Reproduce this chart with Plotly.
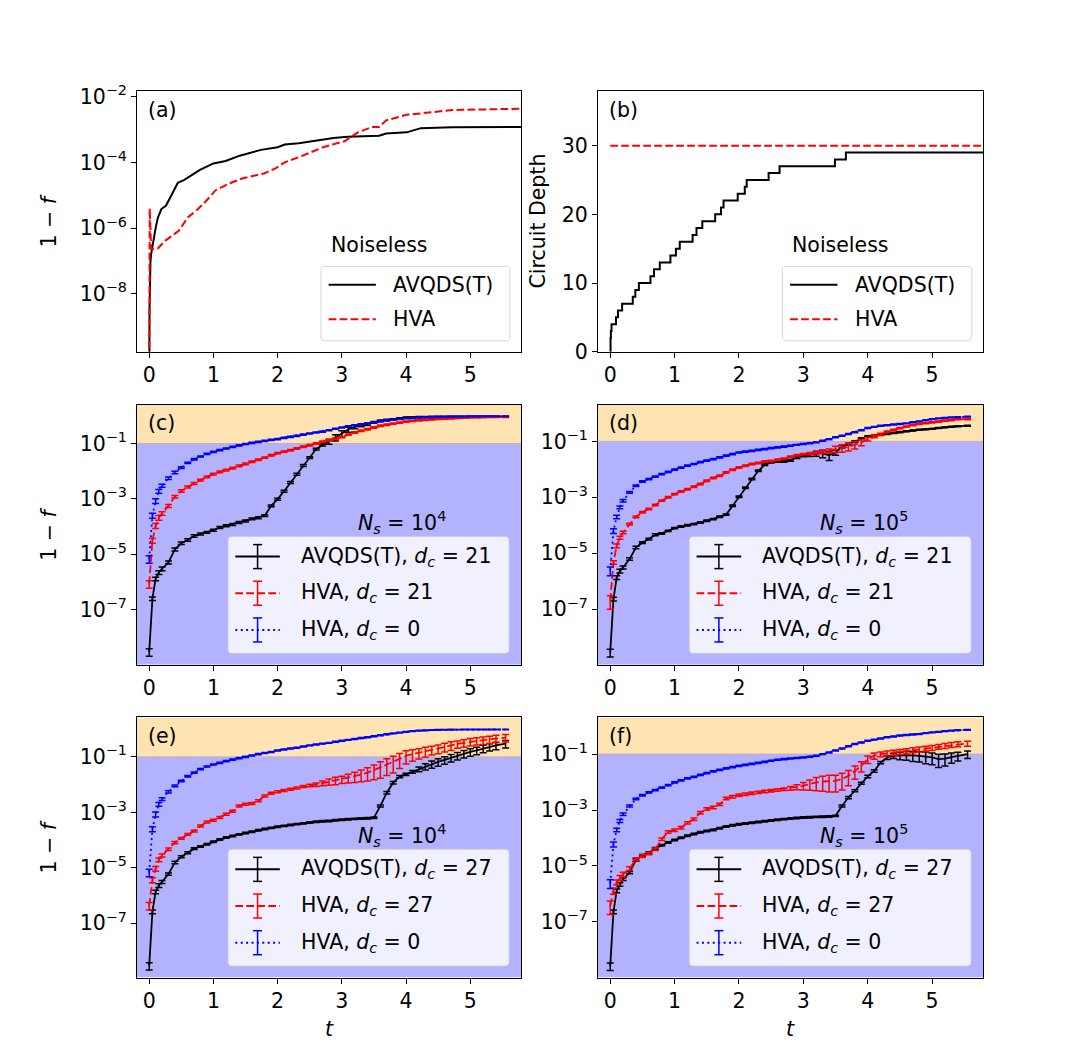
import plotly.graph_objects as go

# ---------------- data ----------------
# (a) noiseless infidelity 1-f
ta_avqds = [0, 0.005, 0.02, 0.03, 0.1, 0.135, 0.19, 0.26, 0.34, 0.445, 0.54, 0.68, 0.79, 1.0,
            1.19, 1.41, 1.74, 2.0, 2.11, 2.33, 2.55, 2.87, 3.09, 3.58, 3.69, 4.01, 4.23, 4.72, 5.8]
fa_avqds = [1e-12, 3e-9, 1e-7, 1.6e-7, 1.0e-6, 2.1e-6, 3.8e-6, 4.8e-6, 9.5e-6, 2.4e-5, 2.9e-5, 4.4e-5,
            5.9e-5, 9.3e-5, 1.1e-4, 1.6e-4, 2.4e-4, 2.9e-4, 3.5e-4, 3.8e-4, 4.4e-4, 5.5e-4, 6.0e-4,
            6.5e-4, 7.6e-4, 8.2e-4, 1.1e-3, 1.17e-3, 1.2e-3]
ta_hva = [0, 0.008, 0.03, 0.135, 0.24, 0.38, 0.46, 0.6, 0.76, 0.89, 1.03, 1.25, 1.46, 1.79, 1.98,
          2.11, 2.39, 2.71, 3.04, 3.25, 3.47, 3.58, 3.69, 4.01, 4.34, 4.72, 5.8]
fa_hva = [1e-12, 4e-6, 2.3e-7, 2.4e-7, 4e-7, 6.3e-7, 8.3e-7, 2.1e-6, 3.8e-6, 6.8e-6, 1.4e-5, 2.3e-5,
          3.3e-5, 4.6e-5, 6.8e-5, 1.0e-4, 1.6e-4, 2.9e-4, 4.4e-4, 8.2e-4, 1.2e-3, 1.2e-3, 1.9e-3,
          2.8e-3, 3.3e-3, 3.9e-3, 4.3e-3]

# (b) circuit depth
tb_avqds = [0, 0.005, 0.01, 0.02, 0.09, 0.12, 0.185, 0.35, 0.39, 0.445, 0.625, 0.68, 0.77, 0.935,
            1.02, 1.08, 1.28, 1.34, 1.43, 1.63, 1.72, 1.76, 1.98, 2.09, 2.12, 2.46, 2.63, 3.49, 3.66, 5.8]
db_avqds = [0, 2, 3, 4, 5, 6, 7, 8, 9, 10, 11, 12, 13, 14, 15, 16, 17, 18, 19, 20, 21, 22, 23, 24,
            25, 26, 27, 28, 29, 29]
tb_hva = [0, 5.8]
db_hva = [30, 30]

# (c)-(f) noisy simulations
T = [0, 0.05, 0.1, 0.15, 0.2, 0.3, 0.4, 0.5, 0.6, 0.7,
     0.8, 0.9, 1.0, 1.1, 1.2, 1.3, 1.4, 1.5, 1.6, 1.7,
     1.8, 1.9, 2.0, 2.1, 2.2, 2.3, 2.4, 2.5, 2.6, 2.7,
     2.8, 2.9, 3.0, 3.1, 3.2, 3.3, 3.4, 3.5, 3.6, 3.7,
     3.8, 3.9, 4.0, 4.1, 4.2, 4.3, 4.4, 4.5, 4.6, 4.7,
     4.8, 4.9, 5.0, 5.1, 5.2, 5.3, 5.4, 5.55]

c_avqds = [3e-9, 2.5e-7, 1.3e-6, 2.2e-6, 3e-6, 5.1e-6, 1.5e-5, 2.5e-5, 3.3e-5, 4.6e-5,
           5.4e-5, 6.2e-5, 7.4e-5, 9.3e-5, 1.07e-4, 1.2e-4, 1.4e-4, 1.6e-4, 1.9e-4, 2.1e-4,
           2.5e-4, 5.6e-4, 9.8e-4, 1.9e-3, 3.9e-3, 7.8e-3, 1.6e-2, 3.1e-2, 6.3e-2, 8.9e-2,
           0.118, 0.165, 0.23, 0.32, 0.4, 0.45, 0.5, 0.58, 0.66, 0.71,
           0.76, 0.82, 0.87, 0.89, 0.9, 0.91, 0.92, 0.92, 0.93, 0.93,
           0.93, 0.94, 0.94, 0.94, 0.94, 0.94, 0.94, 0.94]
c_hva21 = [8.5e-7, 3.1e-5, 1.07e-4, 2.1e-4, 3e-4, 5.6e-4, 1.2e-3, 1.95e-3, 2.7e-3, 3.6e-3,
           4.8e-3, 6.3e-3, 7.8e-3, 9.5e-3, 1.1e-2, 1.3e-2, 1.55e-2, 1.85e-2, 2.2e-2, 2.6e-2,
           3.1e-2, 3.8e-2, 4.5e-2, 5.1e-2, 5.7e-2, 6.6e-2, 7.6e-2, 8.7e-2, 0.1, 0.115,
           0.13, 0.15, 0.17, 0.21, 0.25, 0.29, 0.33, 0.38, 0.44, 0.48,
           0.52, 0.57, 0.62, 0.66, 0.69, 0.72, 0.75, 0.77, 0.79, 0.81,
           0.83, 0.85, 0.87, 0.88, 0.89, 0.9, 0.9, 0.91]
c_hva0 = [6.8e-6, 2.5e-4, 8.5e-4, 1.9e-3, 3e-3, 5.6e-3, 9e-3, 1.35e-2, 2e-2, 2.7e-2,
          3.4e-2, 4.2e-2, 5e-2, 5.8e-2, 6.6e-2, 7.6e-2, 8.6e-2, 9.6e-2, 0.105, 0.115,
          0.125, 0.135, 0.145, 0.16, 0.175, 0.19, 0.21, 0.23, 0.25, 0.27,
          0.3, 0.34, 0.38, 0.42, 0.46, 0.5, 0.54, 0.58, 0.63, 0.68,
          0.72, 0.76, 0.8, 0.83, 0.86, 0.88, 0.9, 0.91, 0.92, 0.93,
          0.94, 0.95, 0.96, 0.96, 0.97, 0.97, 0.97, 0.97]

d_avqds = [2.8e-9, 2.3e-7, 1.35e-6, 2.3e-6, 3.1e-6, 6.2e-6, 1.6e-5, 2.4e-5, 3.2e-5, 4.6e-5,
           5.1e-5, 6.3e-5, 7.9e-5, 9e-5, 1.0e-4, 1.1e-4, 1.26e-4, 1.45e-4, 1.66e-4, 2e-4,
           2.4e-4, 5e-4, 1.05e-3, 2.2e-3, 4.5e-3, 8.9e-3, 1.45e-2, 1.8e-2, 1.9e-2, 1.9e-2,
           2.1e-2, 2.7e-2, 3.1e-2, 3.3e-2, 3.7e-2, 3.7e-2, 3.2e-2, 4.0e-2, 6.4e-2, 8e-2,
           0.1, 0.128, 0.15, 0.16, 0.17, 0.185, 0.2, 0.215, 0.23, 0.245,
           0.26, 0.27, 0.28, 0.3, 0.32, 0.335, 0.35, 0.36]
d_hva21 = [2e-7, 4.7e-6, 1.85e-5, 3.6e-5, 5.5e-5, 1.1e-4, 2e-4, 2.9e-4, 3.8e-4, 5.3e-4,
           7.6e-4, 1e-3, 1.3e-3, 1.6e-3, 1.95e-3, 2.4e-3, 3e-3, 3.9e-3, 4.9e-3, 5.9e-3,
           7.8e-3, 9.7e-3, 1.17e-2, 1.35e-2, 1.55e-2, 1.7e-2, 1.9e-2, 2.0e-2, 2.2e-2, 2.4e-2,
           2.8e-2, 3.2e-2, 3.5e-2, 3.7e-2, 3.9e-2, 4.3e-2, 4.6e-2, 5.3e-2, 5.8e-2, 6.4e-2,
           7.6e-2, 9.2e-2, 0.12, 0.15, 0.18, 0.22, 0.26, 0.3, 0.34, 0.38,
           0.42, 0.45, 0.48, 0.51, 0.55, 0.58, 0.62, 0.63]
d_hva0 = [2.4e-6, 6.3e-5, 2e-4, 4.4e-4, 7.6e-4, 1.5e-3, 2.6e-3, 3.7e-3, 4.5e-3, 5.5e-3,
          6.8e-3, 8.1e-3, 9.7e-3, 1.15e-2, 1.35e-2, 1.55e-2, 1.8e-2, 2.05e-2, 2.3e-2, 2.7e-2,
          3.1e-2, 3.5e-2, 4.0e-2, 4.3e-2, 4.6e-2, 5.0e-2, 5.3e-2, 5.7e-2, 6.1e-2, 6.5e-2,
          7e-2, 7.5e-2, 8e-2, 8.6e-2, 9.2e-2, 0.105, 0.12, 0.14, 0.16, 0.185,
          0.21, 0.25, 0.3, 0.33, 0.36, 0.38, 0.4, 0.42, 0.44, 0.48,
          0.52, 0.57, 0.62, 0.66, 0.69, 0.72, 0.74, 0.76]

e_avqds = [2.9e-9, 2.6e-7, 1.35e-6, 2.3e-6, 3.1e-6, 5.9e-6, 1.55e-5, 2.5e-5, 3.5e-5, 4.9e-5,
           5.9e-5, 7.1e-5, 8.7e-5, 1.05e-4, 1.23e-4, 1.4e-4, 1.6e-4, 1.8e-4, 2.0e-4, 2.25e-4,
           2.5e-4, 2.75e-4, 3.0e-4, 3.25e-4, 3.5e-4, 3.75e-4, 4e-4, 4.3e-4, 4.6e-4, 4.75e-4,
           4.9e-4, 5.15e-4, 5.4e-4, 5.6e-4, 5.8e-4, 6e-4, 6.1e-4, 6.4e-4, 1.7e-3, 5.1e-3,
           1.17e-2, 1.95e-2, 2.35e-2, 2.9e-2, 3.6e-2, 4.5e-2, 5.5e-2, 6.6e-2, 7.8e-2, 9.3e-2,
           0.11, 0.13, 0.15, 0.17, 0.2, 0.23, 0.26, 0.3]
e_hva27 = [4.3e-7, 3.6e-6, 9.3e-6, 1.95e-5, 2.8e-5, 4.7e-5, 8.1e-5, 1.15e-4, 1.6e-4, 2.1e-4,
           3.2e-4, 4.5e-4, 5.2e-4, 6.5e-4, 8.5e-4, 1.1e-3, 1.7e-3, 1.95e-3, 2.1e-3, 2.6e-3,
           3.9e-3, 4.9e-3, 5.5e-3, 6.1e-3, 6.8e-3, 7.6e-3, 8.5e-3, 9.3e-3, 1.0e-2, 1.13e-2,
           1.26e-2, 1.4e-2, 1.55e-2, 1.75e-2, 2.0e-2, 2.3e-2, 2.7e-2, 3.3e-2, 4.2e-2, 5.3e-2,
           6.6e-2, 8.5e-2, 0.11, 0.125, 0.14, 0.16, 0.18, 0.2, 0.23, 0.26,
           0.29, 0.32, 0.35, 0.38, 0.4, 0.43, 0.46, 0.49]
e_hva0 = [6.8e-6, 2.5e-4, 8.5e-4, 1.95e-3, 3e-3, 5.5e-3, 9e-3, 1.35e-2, 2e-2, 2.7e-2,
          3.6e-2, 4.5e-2, 5.3e-2, 6.1e-2, 7e-2, 8e-2, 9e-2, 0.1, 0.112, 0.125,
          0.137, 0.15, 0.17, 0.185, 0.2, 0.215, 0.235, 0.26, 0.28, 0.3,
          0.32, 0.35, 0.38, 0.41, 0.44, 0.48, 0.51, 0.55, 0.6, 0.65,
          0.7, 0.75, 0.8, 0.85, 0.89, 0.91, 0.93, 0.94, 0.95, 0.96,
          0.96, 0.97, 0.97, 0.97, 0.97, 0.97, 0.97, 0.97]

f_avqds = [2.6e-9, 2.3e-7, 1.3e-6, 2.2e-6, 3.4e-6, 5.8e-6, 1.65e-5, 2.4e-5, 3e-5, 4.2e-5,
           5.5e-5, 6.9e-5, 8.5e-5, 1.02e-4, 1.2e-4, 1.4e-4, 1.6e-4, 1.78e-4, 1.95e-4, 2.25e-4,
           2.6e-4, 2.85e-4, 3.1e-4, 3.3e-4, 3.5e-4, 3.75e-4, 4e-4, 4.25e-4, 4.5e-4, 4.75e-4,
           5e-4, 5.2e-4, 5.4e-4, 5.55e-4, 5.7e-4, 5.8e-4, 5.9e-4, 6.2e-4, 1.4e-3, 2.8e-3,
           4.9e-3, 9.1e-3, 1.6e-2, 2.5e-2, 5e-2, 7.6e-2, 8.7e-2, 9e-2, 9.2e-2, 9e-2,
           8.7e-2, 8.2e-2, 7.6e-2, 6.6e-2, 6.9e-2, 7.8e-2, 8.7e-2, 0.1]
f_hva27 = [3.7e-7, 1.3e-6, 2.6e-6, 3.8e-6, 5e-6, 8.1e-6, 1.75e-5, 2.3e-5, 2.8e-5, 4e-5,
           9.1e-5, 1.66e-4, 1.9e-4, 2.35e-4, 3.5e-4, 4.7e-4, 8.1e-4, 1.1e-3, 1.23e-3, 1.6e-3,
           2.6e-3, 3e-3, 3.4e-3, 3.7e-3, 4e-3, 4.3e-3, 4.6e-3, 4.9e-3, 5.2e-3, 5.6e-3,
           6e-3, 6.7e-3, 7.4e-3, 8.5e-3, 9.7e-3, 1.05e-2, 1.1e-2, 1.1e-2, 1.3e-2, 1.66e-2,
           2.5e-2, 3.8e-2, 6.6e-2, 8.7e-2, 0.1, 0.107, 0.115, 0.122, 0.13, 0.14,
           0.15, 0.16, 0.17, 0.185, 0.2, 0.215, 0.23, 0.24]
f_hva0 = [2.4e-6, 6e-5, 1.95e-4, 4.1e-4, 7.1e-4, 1.4e-3, 2.5e-3, 3.4e-3, 4.3e-3, 5.2e-3,
          6.4e-3, 7.8e-3, 9.7e-3, 1.15e-2, 1.35e-2, 1.55e-2, 1.8e-2, 2.1e-2, 2.4e-2, 2.75e-2,
          3.1e-2, 3.45e-2, 3.8e-2, 4.15e-2, 4.5e-2, 4.9e-2, 5.3e-2, 5.8e-2, 6.3e-2, 6.6e-2,
          7e-2, 7.3e-2, 7.6e-2, 8.1e-2, 8.7e-2, 0.1, 0.115, 0.135, 0.16, 0.19,
          0.23, 0.26, 0.3, 0.33, 0.36, 0.4, 0.43, 0.46, 0.48, 0.5,
          0.52, 0.56, 0.6, 0.63, 0.66, 0.69, 0.72, 0.74]

# relative sizes of the error bars (error / value)
c_avqds_rel = [0.3, 0.15, 0.15, 0.15, 0.15, 0.12, 0.12, 0.1, 0.1, 0.1] + [0.08] * 20 + \
              [0.2, 0.25, 0.25, 0.2, 0.15, 0.1, 0.1, 0.08, 0.06, 0.05] + [0.04] * 10 + [0.03] * 8
c_hva21_rel = [0.3, 0.2, 0.2, 0.2, 0.15, 0.12, 0.1, 0.1, 0.08, 0.08] + [0.07] * 10 + [0.06] * 20 + \
              [0.05] * 10 + [0.04] * 8
c_hva0_rel = [0.3, 0.2, 0.2, 0.15, 0.12, 0.1, 0.1, 0.08, 0.06, 0.06] + [0.05] * 20 + [0.04] * 10 + \
             [0.03] * 10 + [0.02] * 8
d_avqds_rel = [0.3, 0.15, 0.15, 0.15, 0.12, 0.1, 0.1, 0.08, 0.08, 0.08] + [0.06] * 20 + \
              [0.08, 0.1, 0.1, 0.12, 0.2, 0.3, 0.35, 0.2, 0.1, 0.08] + [0.05] * 10 + [0.04] * 8
d_hva21_rel = [0.5, 0.15, 0.15, 0.12, 0.1, 0.08, 0.08, 0.06, 0.06, 0.06] + [0.06] * 20 + \
              [0.06, 0.06, 0.06, 0.08, 0.1, 0.12, 0.15, 0.25, 0.3, 0.3] + \
              [0.3, 0.25, 0.15, 0.1, 0.08, 0.06, 0.05, 0.05, 0.05, 0.05] + [0.05] * 8
d_hva0_rel = [0.35, 0.2, 0.15, 0.12, 0.1, 0.08, 0.06, 0.06, 0.05, 0.05] + [0.05] * 20 + \
             [0.04] * 20 + [0.03] * 8
e_avqds_rel = [0.3, 0.15, 0.15, 0.15, 0.12, 0.1, 0.1, 0.08, 0.08, 0.08] + [0.06] * 28 + [0.08, 0.1] + \
              [0.1, 0.1, 0.1, 0.12, 0.2, 0.25, 0.3, 0.3, 0.3, 0.3] + [0.3] * 8
e_hva27_rel = [0.3, 0.2, 0.2, 0.15, 0.12, 0.1, 0.1, 0.08, 0.08, 0.08] + [0.08] * 17 + [0.1, 0.15, 0.2] + \
              [0.25, 0.3, 0.3, 0.35, 0.4, 0.45, 0.5, 0.55, 0.6, 0.6] + \
              [0.6, 0.55, 0.5, 0.45, 0.4, 0.4, 0.35, 0.35, 0.35, 0.35] + [0.3] * 8
e_hva0_rel = [0.3, 0.2, 0.2, 0.15, 0.12, 0.1, 0.08, 0.06, 0.06, 0.05] + [0.05] * 10 + [0.04] * 20 + \
             [0.03] * 10 + [0.02] * 8
f_avqds_rel = [0.3, 0.15, 0.15, 0.15, 0.12, 0.1, 0.1, 0.08, 0.08, 0.08] + [0.06] * 28 + [0.08, 0.1] + \
              [0.08, 0.08, 0.1, 0.1, 0.1, 0.15, 0.2, 0.3, 0.35, 0.4] + \
              [0.4, 0.45, 0.45, 0.5, 0.45, 0.4, 0.35, 0.3]
f_hva27_rel = [0.5, 0.25, 0.2, 0.2, 0.2, 0.15, 0.12, 0.12, 0.1, 0.1] + [0.1] * 20 + \
              [0.15, 0.2, 0.3, 0.4, 0.5, 0.55, 0.6, 0.6, 0.6, 0.55] + \
              [0.5, 0.4, 0.3, 0.25, 0.2, 0.2, 0.2, 0.2, 0.2, 0.2] + [0.2] * 8
f_hva0_rel = [0.35, 0.2, 0.15, 0.12, 0.1, 0.08, 0.06, 0.06, 0.05, 0.05] + [0.05] * 20 + \
             [0.04] * 20 + [0.03] * 8

# tick labels
x_ticks = [0, 1, 2, 3, 4, 5]
a_yticks = [1e-2, 1e-4, 1e-6, 1e-8]
a_yticklabels = ["10<sup>\u22122</sup>", "10<sup>\u22124</sup>", "10<sup>\u22126</sup>", "10<sup>\u22128</sup>"]
b_yticks = [0, 10, 20, 30]
n_yticks = [1e-1, 1e-3, 1e-5, 1e-7]
n_yticklabels = ["10<sup>\u22121</sup>", "10<sup>\u22123</sup>", "10<sup>\u22125</sup>", "10<sup>\u22127</sup>"]

# ---------------- layout geometry ----------------
# positions below are given in pixels of the final 1092x1052 picture; the page has an
# 8px body margin and the captured picture comes out slightly squeezed vertically,
# so they are mapped back into figure coordinates by fig_x / fig_y.
OFF = 8
YS, YB = 0.98, 8.5
W, H = 1076, 1060
FONT = "DejaVu Sans"
FS = 20.5
PANELS = {  # left, right, top, bottom in picture pixels
    'a': (137, 521, 90.7, 351),
    'b': (598, 983, 90.7, 351),
    'c': (137, 521, 404, 664),
    'd': (598, 983, 404, 664),
    'e': (137, 521, 716.7, 976.7),
    'f': (598, 983, 716.7, 976.7),
}
ORDER = ['a', 'b', 'c', 'd', 'e', 'f']
YR = {'a': [-9.76, -1.84], 'b': [0, 37.9], 'c': [-8.99, 0.40], 'd': [-8.99, 0.31],
      'e': [-8.96, 0.42], 'f': [-8.99, 0.31]}
XR = [-0.19, 5.79]

def sfx(p):
    n = ORDER.index(p) + 1
    return '' if n == 1 else str(n)

def px(x, y):
    fx = x - OFF
    fy = (y - YB) / YS - OFF
    return fx / W, 1 - fy / H

def pan(p, fx, fy):
    L, R, Tp, B = PANELS[p]
    return L + fx * (R - L), Tp + fy * (B - Tp)

DASH = "7.7px,3.3px"
DOT = "2px,3.4px"

fig = go.Figure()

def line_trace(p, x, y, color, dash):
    s = sfx(p)
    fig.add_trace(go.Scatter(x=x, y=y, mode='lines', xaxis='x' + s, yaxis='y' + s,
                             line=dict(color=color, width=2, dash=dash), showlegend=False,
                             hoverinfo='skip'))

def err_trace(p, y, rel, color, dash):
    s = sfx(p)
    err = [v * r for v, r in zip(y, rel)]
    fig.add_trace(go.Scatter(x=T, y=y, mode='lines', xaxis='x' + s, yaxis='y' + s,
                             line=dict(color=color, width=1.8, dash=dash), showlegend=False,
                             hoverinfo='skip',
                             error_y=dict(type='data', array=err, symmetric=True, visible=True,
                                          color=color, thickness=1.5, width=3.5)))

line_trace('a', ta_avqds, fa_avqds, 'black', 'solid')
line_trace('a', ta_hva, fa_hva, 'red', DASH)
s = sfx('b')
fig.add_trace(go.Scatter(x=tb_avqds, y=db_avqds, mode='lines', xaxis='x' + s, yaxis='y' + s,
                         line=dict(color='black', width=2, shape='hv'), showlegend=False))
fig.add_trace(go.Scatter(x=tb_hva, y=db_hva, mode='lines', xaxis='x' + s, yaxis='y' + s,
                         line=dict(color='red', width=2, dash=DASH), showlegend=False))

noisy = {
    'c': [(c_avqds, c_avqds_rel), (c_hva21, c_hva21_rel), (c_hva0, c_hva0_rel)],
    'd': [(d_avqds, d_avqds_rel), (d_hva21, d_hva21_rel), (d_hva0, d_hva0_rel)],
    'e': [(e_avqds, e_avqds_rel), (e_hva27, e_hva27_rel), (e_hva0, e_hva0_rel)],
    'f': [(f_avqds, f_avqds_rel), (f_hva27, f_hva27_rel), (f_hva0, f_hva0_rel)],
}
styles = [('black', 'solid'), ('red', DASH), ('blue', DOT)]
for p, series in noisy.items():
    for (vals, rel), (col, dsh) in zip(series, styles):
        err_trace(p, vals, rel, col, dsh)

layout = dict(width=W, height=H, margin=dict(l=0, r=0, t=0, b=0), paper_bgcolor='white',
              plot_bgcolor='white', showlegend=False, font=dict(family=FONT, size=FS, color='black'))
shapes = []
annotations = []

for p in ORDER:
    s = sfx(p)
    L, R, Tp, B = PANELS[p]
    x0, y1 = px(L, Tp)
    x1, y0 = px(R, B)
    xa = dict(domain=[x0, x1], anchor='y' + s, range=XR, showline=True, mirror=True, linecolor='black',
              linewidth=1, ticks='outside', ticklen=5, tickwidth=1, tickcolor='black',
              tickvals=x_ticks, showgrid=False, zeroline=False, tickfont=dict(family=FONT, size=FS))
    ya = dict(domain=[y0, y1], anchor='x' + s, range=YR[p], showline=True, mirror=True, linecolor='black',
              linewidth=1, ticks='outside', ticklen=5, tickwidth=1, tickcolor='black',
              showgrid=False, zeroline=False, tickfont=dict(family=FONT, size=FS))
    if p == 'a':
        ya.update(type='log', tickvals=a_yticks, ticktext=a_yticklabels)
    elif p == 'b':
        ya.update(type='linear', tickvals=b_yticks)
    else:
        ya.update(type='log', tickvals=n_yticks, ticktext=n_yticklabels)
        lo, hi = YR[p]
        shapes.append(dict(type='rect', xref='x' + s + ' domain', yref='y' + s, x0=0, x1=1,
                           y0=1e-1, y1=10 ** hi, fillcolor='rgb(255,228,179)', line=dict(width=0),
                           layer='below'))
        shapes.append(dict(type='rect', xref='x' + s + ' domain', yref='y' + s, x0=0, x1=1,
                           y0=10 ** lo, y1=1e-1, fillcolor='rgb(178,178,255)', line=dict(width=0),
                           layer='below'))
        shapes.append(dict(type='line', xref='x' + s + ' domain', yref='y' + s, x0=0, x1=1,
                           y0=1e-1, y1=1e-1, line=dict(color='rgb(201,174,178)', width=1),
                           layer='below'))
    layout['xaxis' + s] = xa
    layout['yaxis' + s] = ya
    # panel label
    X, Y = pan(p, 0.023, 0.072)
    xx, yy = px(X, Y)
    annotations.append(dict(text='(' + p + ')', x=xx, y=yy, xref='paper', yref='paper',
                            xanchor='left', yanchor='middle', showarrow=False,
                            font=dict(family=FONT, size=FS)))

# axis titles
for p in ['a', 'c', 'e']:
    L, R, Tp, B = PANELS[p]
    xx, yy = px(49, (Tp + B) / 2)
    annotations.append(dict(text='1 \u2212 <i>f</i>', x=xx, y=yy, xref='paper', yref='paper',
                            textangle=-90, showarrow=False, xanchor='center', yanchor='middle',
                            font=dict(family=FONT, size=FS)))
L, R, Tp, B = PANELS['b']
xx, yy = px(538, (Tp + B) / 2)
annotations.append(dict(text='Circuit Depth', x=xx, y=yy, xref='paper', yref='paper', textangle=-90,
                        showarrow=False, xanchor='center', yanchor='middle',
                        font=dict(family=FONT, size=FS)))
for p in ['e', 'f']:
    L, R, Tp, B = PANELS[p]
    xx, yy = px((L + R) / 2, 1028)
    annotations.append(dict(text='<i>t</i>', x=xx, y=yy, xref='paper', yref='paper', showarrow=False,
                            xanchor='center', yanchor='middle', font=dict(family=FONT, size=FS)))

# ---------------- manual legends ----------------
def rounded_box(x0p, y0p, x1p, y1p, r=4):
    def P(x, y):
        a, b = px(x, y)
        return f"{a:.5f},{b:.5f}"
    path = (f"M {P(x0p + r, y0p)} L {P(x1p - r, y0p)} Q {P(x1p, y0p)} {P(x1p, y0p + r)} "
            f"L {P(x1p, y1p - r)} Q {P(x1p, y1p)} {P(x1p - r, y1p)} L {P(x0p + r, y1p)} "
            f"Q {P(x0p, y1p)} {P(x0p, y1p - r)} L {P(x0p, y0p + r)} Q {P(x0p, y0p)} {P(x0p + r, y0p)} Z")
    return dict(type='path', path=path, xref='paper', yref='paper',
                fillcolor='rgba(255,255,255,0.8)', line=dict(color='rgba(204,204,204,0.8)', width=1),
                layer='above')

def seg(x0p, y0p, x1p, y1p, color, width=2, dash='solid'):
    a0, b0 = px(x0p, y0p)
    a1, b1 = px(x1p, y1p)
    return dict(type='line', xref='paper', yref='paper', x0=a0, y0=b0, x1=a1, y1=b1,
                line=dict(color=color, width=width, dash=dash), layer='above')

def add_legend(p, entries, box, ys, hx, tx, bars, header, header_pos, header_anchor):
    X0, Y0 = pan(p, box[0], box[2])
    X1, Y1 = pan(p, box[1], box[3])
    shapes.append(rounded_box(X0, Y0, X1, Y1))
    for (col, dsh, label), fy in zip(entries, ys):
        hx0, yy = pan(p, hx[0], fy)
        hx1, _ = pan(p, hx[1], fy)
        shapes.append(seg(hx0, yy, hx1, yy, col, 2, dsh))
        if bars:
            xc = (hx0 + hx1) / 2
            shapes.append(seg(xc, yy - 12, xc, yy + 12, col, 1.5))
            shapes.append(seg(xc - 4.5, yy - 12, xc + 4.5, yy - 12, col, 1.5))
            shapes.append(seg(xc - 4.5, yy + 12, xc + 4.5, yy + 12, col, 1.5))
        tX, _ = pan(p, tx, fy)
        a, b = px(tX, yy)
        annotations.append(dict(text=label, x=a, y=b, xref='paper', yref='paper', showarrow=False,
                                xanchor='left', yanchor='middle', font=dict(family=FONT, size=FS)))
    hX, hY = pan(p, header_pos[0], header_pos[1])
    a, b = px(hX, hY)
    annotations.append(dict(text=header, x=a, y=b, xref='paper', yref='paper', showarrow=False,
                            xanchor=header_anchor, yanchor='middle', font=dict(family=FONT, size=FS)))

ab_entries = [('black', 'solid', 'AVQDS(T)'), ('red', DASH, 'HVA')]
for p in ['a', 'b']:
    add_legend(p, ab_entries, box=(0.479, 0.971, 0.672, 0.958), ys=(0.743, 0.875), hx=(0.499, 0.622),
               tx=0.662, bars=False, header='Noiseless', header_pos=(0.499, 0.589), header_anchor='left')

legend_dc = {'c': '21', 'd': '21', 'e': '27', 'f': '27'}
legend_ns = {'c': '4', 'd': '5', 'e': '4', 'f': '5'}
for p in ['c', 'd', 'e', 'f']:
    dc = legend_dc[p]
    entries = [('black', 'solid', 'AVQDS(T), <i>d<sub>c</sub></i> = ' + dc),
               ('red', DASH, 'HVA, <i>d<sub>c</sub></i> = ' + dc),
               ('blue', DOT, 'HVA, <i>d<sub>c</sub></i> = 0')]
    add_legend(p, entries, box=(0.237, 0.969, 0.507, 0.956), ys=(0.584, 0.725, 0.866),
               hx=(0.256, 0.372), tx=0.422, bars=True,
               header='<i>N<sub>s</sub></i> = 10<sup>' + legend_ns[p] + '</sup>',
               header_pos=(0.69, 0.453), header_anchor='center')

layout['shapes'] = shapes
layout['annotations'] = annotations
fig.update_layout(**layout)
fig.write_html("out.html")
